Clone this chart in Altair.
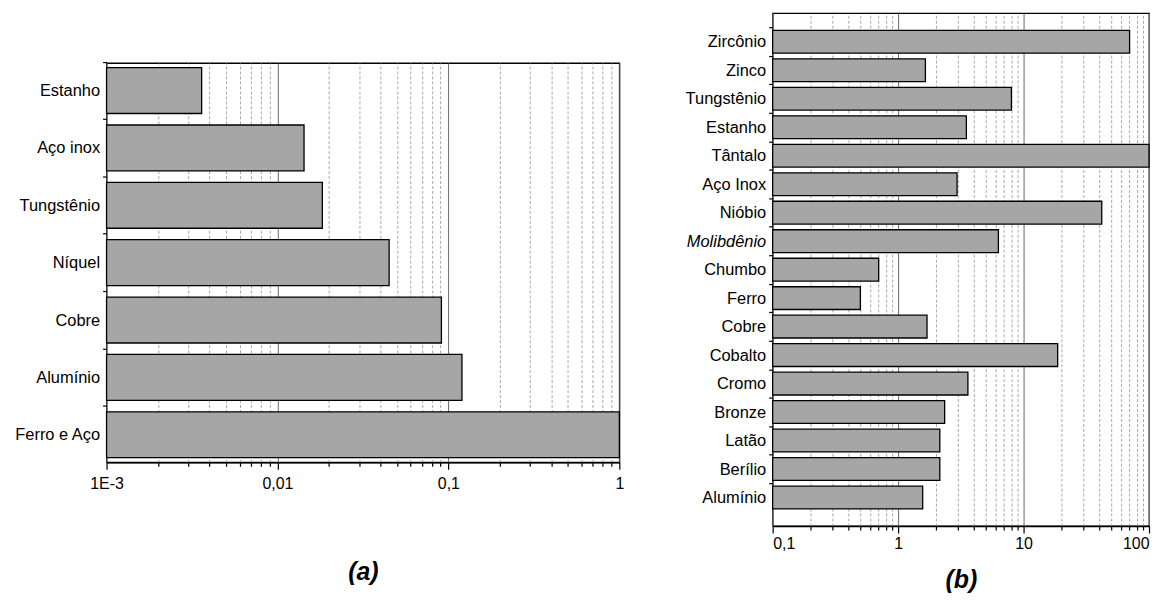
import altair as alt
import pandas as pd

# ---------------- data ----------------
a_materials = ["Estanho", "Aço inox", "Tungstênio", "Níquel", "Cobre", "Alumínio", "Ferro e Aço"]
a_values = [0.0036, 0.0143, 0.0183, 0.045, 0.091, 0.12, 1.0]

b_materials = ["Zircônio", "Zinco", "Tungstênio", "Estanho", "Tântalo", "Aço Inox", "Nióbio",
               "Molibdênio", "Chumbo", "Ferro", "Cobre", "Cobalto", "Cromo", "Bronze",
               "Latão", "Berílio", "Alumínio"]
b_values = [70, 1.65, 8.0, 3.5, 100, 2.95, 42, 6.3, 0.70, 0.50, 1.70, 18.7, 3.6, 2.35,
            2.15, 2.15, 1.57]

a_ticks = [0.001, 0.002, 0.003, 0.004, 0.005, 0.006, 0.007, 0.008, 0.009,
           0.01, 0.02, 0.03, 0.04, 0.05, 0.06, 0.07, 0.08, 0.09,
           0.1, 0.2, 0.3, 0.4, 0.5, 0.6, 0.7, 0.8, 0.9, 1.0]
a_decades = [0.001, 0.01, 0.1, 1.0]
a_decade_labels = ["1E-3", "0,01", "0,1", "1"]

b_ticks = [0.1, 0.2, 0.3, 0.4, 0.5, 0.6, 0.7, 0.8, 0.9,
           1, 2, 3, 4, 5, 6, 7, 8, 9,
           10, 20, 30, 40, 50, 60, 70, 80, 90, 100]
b_decades = [0.1, 1, 10, 100]
b_decade_labels = ["0,1", "1", "10", "100"]

FONT = "Liberation Sans, Arial, sans-serif"
MAJOR = "abs(log(datum.value)/LN10 - round(log(datum.value)/LN10)) < 1e-6"


def label_expr(decades, labels):
    expr = "''"
    for d, l in reversed(list(zip(decades, labels))):
        expr = f"abs(datum.value - {d}) < {d}*1e-6 ? '{l}' : ({expr})"
    return expr


def x_axis(ticks, decades, labels, title, title_pad, label_pad, flush):
    return alt.Axis(
        values=ticks,
        labelExpr=label_expr(decades, labels),
        grid=True,
        gridColor={"condition": {"test": MAJOR, "value": "#6a6a6a"}, "value": "#a8a8a8"},
        gridDash={"condition": {"test": MAJOR, "value": []}, "value": [3, 2]},
        gridWidth=1,
        tickSize={"condition": {"test": MAJOR, "value": 7}, "value": 4},
        tickColor="black",
        tickWidth=1.2,
        domainColor="black",
        domainWidth=1.6,
        labelFont=FONT,
        labelFontSize=16,
        labelColor="black",
        labelPadding=label_pad,
        labelOverlap=False,
        labelFlush=flush,
        title=title,
        titleFont=FONT,
        titleFontSize=25,
        titleFontWeight="bold",
        titleFontStyle="italic",
        titleColor="black",
        titlePadding=title_pad,
    )


def y_axis(tick_offset, italic_label=None):
    kw = {}
    if italic_label:
        kw["labelFontStyle"] = {"condition": {"test": f"datum.value == '{italic_label}'",
                                              "value": "italic"}, "value": "normal"}
    return alt.Axis(
        title=None,
        bandPosition=0,
        tickOffset=tick_offset,
        labelOffset=-tick_offset,
        tickSize=4,
        tickColor="black",
        tickWidth=1.2,
        domain=False,
        grid=False,
        labelFont=FONT,
        labelFontSize=16.5,
        labelColor="black",
        labelPadding=3,
        **kw,
    )


df_a = pd.DataFrame({"material": a_materials, "value": a_values})
df_b = pd.DataFrame({"material": b_materials, "value": b_values})

chart_a = alt.Chart(df_a).mark_bar(
    fill="#a6a6a6", stroke="black", strokeWidth=1.3
).encode(
    y=alt.Y("material:N", sort=a_materials,
            scale=alt.Scale(paddingInner=0.2, paddingOuter=0.08),
            axis=y_axis(-6)),
    x=alt.X("value:Q",
            scale=alt.Scale(type="log", domain=[a_decades[0], a_decades[-1]], nice=False),
            axis=x_axis(a_ticks, a_decades, a_decade_labels, "(a)", 69, 6, False)),
    x2=alt.datum(a_decades[0]),
).properties(width=515, height=401)

chart_b = alt.Chart(df_b).mark_bar(
    fill="#a6a6a6", stroke="black", strokeWidth=1.3
).encode(
    y=alt.Y("material:N", sort=b_materials,
            scale=alt.Scale(paddingInner=0.2, paddingOuter=0.6),
            axis=y_axis(-3, "Molibdênio")),
    x=alt.X("value:Q",
            scale=alt.Scale(type="log", domain=[b_decades[0], b_decades[-1]], nice=False),
            axis=x_axis(b_ticks, b_decades, b_decade_labels, "(b)", 16, 3, True)),
    x2=alt.datum(b_decades[0]),
).properties(width=378, height=515)

spacer = alt.Chart(pd.DataFrame({"s": [0]})).mark_rule(strokeOpacity=0).encode(
    x=alt.value(0), y=alt.value(0), y2=alt.value(1)
).properties(width=10, height=47, view=alt.ViewBackground(stroke=None))

left = alt.vconcat(spacer, chart_a, spacing=0)

chart = alt.hconcat(left, chart_b, spacing=59).properties(
    padding={"left": 5, "top": 3, "right": 2, "bottom": 0}
).configure(
    background="white"
).configure_view(
    stroke="black", strokeWidth=1.3
)

chart.save("out.html", embed_options={"renderer": "svg", "actions": False})
